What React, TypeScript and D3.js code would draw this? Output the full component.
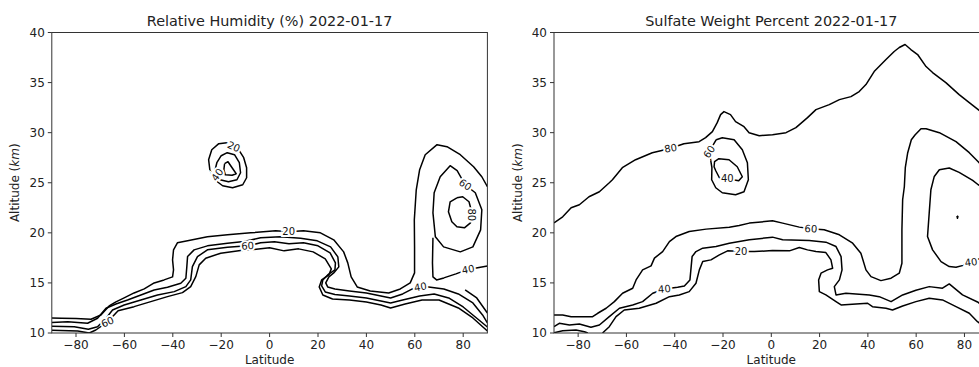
import React from 'react';
import * as d3 from 'd3';

type Pt = [number, number];
type Lbl = [number, number, string, number];

const latTicks = [-80, -60, -40, -20, 0, 20, 40, 60, 80];
const altTicks = [10, 15, 20, 25, 30, 35, 40];

// ---- Relative humidity contours (lat, altitude km) ----
const rh20Band: Pt[] = [
  [-90, 11.5], [-86, 11.48], [-80, 11.45], [-73.8, 11.37], [-69.7, 11.8], [-66.3, 12.7], [-63.5, 13.1],
  [-60.1, 13.5], [-56, 14.0], [-51.8, 14.4], [-47.7, 15.0], [-43.6, 15.3], [-40.1, 15.6], [-39.7, 16.3],
  [-40.1, 17.3], [-39.7, 18.3], [-38.1, 19.0], [-33.9, 19.2], [-25.7, 19.6], [-17.4, 19.8], [-7.8, 20.0],
  [2.5, 20.2], [7.9, 20.1], [14, 20.2], [21, 20.0], [26.5, 19.3], [30.6, 18.1], [32.3, 17.0], [33.7, 15.6],
  [36.2, 14.6], [41.6, 14.2], [49.2, 14.0], [54, 14.4], [58.1, 15.0], [59.9, 16.0], [59.9, 18.6],
  [59.8, 21.3], [60.6, 24.3], [62, 26.3], [64.3, 27.8], [69.2, 28.8], [73.3, 28.6], [78.8, 27.8],
  [84.3, 26.6], [87.7, 25.6], [90, 24.6],
];
const rh40Band: Pt[] = [
  [-90, 11.05], [-83.4, 11.13], [-75.2, 10.97], [-71.1, 11.47], [-67.6, 12.47], [-63.5, 12.9], [-58.7, 13.3],
  [-53.2, 13.8], [-47.7, 14.3], [-42.2, 14.57], [-36.7, 14.97], [-34.6, 15.47], [-34.2, 16.63], [-33.9, 17.63],
  [-31.2, 18.3], [-25.7, 18.7], [-17.4, 18.97], [-10.6, 19.13], [-3.7, 19.5], [4.5, 19.6], [12.8, 19.45],
  [19.7, 19.2], [25.2, 18.6], [28.2, 17.6], [28.6, 16.6], [26.5, 16.0], [24.5, 15.6], [23.2, 15.0],
  [24, 14.6], [27, 14.4], [33, 14.2], [40, 14.0], [46, 13.7], [50, 13.5], [55, 13.9], [59, 14.4],
  [62.3, 14.6], [65.7, 14.6], [72, 14.4], [78, 13.9], [84, 13.0], [88, 11.8], [90, 11.0],
];
const rh60Band: Pt[] = [
  [-90, 10.67], [-80.7, 10.63], [-74.9, 10.37], [-71.1, 10.63], [-67.5, 11.5], [-64.9, 12.3], [-60.1, 12.8],
  [-53.2, 13.3], [-46.3, 13.8], [-39.4, 14.13], [-34.6, 14.63], [-32.6, 15.3], [-31.9, 16.63], [-29.8, 17.63],
  [-25.7, 18.3], [-17.4, 18.57], [-9.1, 18.7], [-3.7, 19.0], [2, 19.1], [8, 18.9], [14, 19.0], [20, 18.7],
  [25, 18.0], [27.2, 17.0], [27, 16.3], [24, 15.8], [22, 15.3], [21.5, 14.7], [23, 14.1], [27, 13.85],
  [33, 13.7], [40, 13.5], [46, 13.2], [50, 13.0], [55, 13.3], [62, 13.7], [68, 13.9], [74, 13.5],
  [80, 12.6], [86, 11.4], [90, 10.6],
];
const rh80Band: Pt[] = [
  [-90, 10.27], [-79.3, 10.2], [-74.5, 10.0], [-71.8, 10.3], [-67, 11.1], [-62.6, 12.23], [-56, 12.63],
  [-49.1, 13.13], [-42.2, 13.63], [-36, 14.03], [-32.6, 14.63], [-30.5, 15.63], [-29.1, 16.8], [-26.4, 17.47],
  [-20.2, 17.97], [-12, 18.23], [-7.8, 18.3], [0, 18.5], [6, 18.2], [12, 18.4], [18, 18.1], [23, 17.4],
  [25.5, 16.4], [24.5, 15.8], [21.5, 15.3], [20.5, 14.6], [22, 13.8], [26, 13.4], [33, 13.3], [40, 13.1],
  [46, 12.8], [50, 12.5], [56, 12.9], [63, 13.3], [70, 13.3], [78, 12.5], [84, 11.5], [90, 10.2],
];
const rhCorner: Pt[] = [[80.8, 14.3], [85.6, 13.5], [90, 12.0]];
const rh40Right: Pt[] = [
  [90, 16.7], [87.7, 16.6], [82, 16.35], [77, 15.9], [72, 15.5], [69, 15.3], [67.5, 15.6], [67.3, 17.0], [67.5, 19.5],
];
const rh60Loop: Pt[] = [
  [80.8, 24.8], [85, 24.0], [87.7, 22.3], [87.2, 20.3], [84, 18.6], [78.8, 18.1], [71.9, 18.6], [68.5, 19.6],
  [67.5, 22], [68, 24], [70.5, 25.6], [74.6, 26.7], [77.5, 26.2], [80.8, 24.8],
];
const rh80Loop: Pt[] = [
  [77.4, 23.5], [74.6, 23.1], [73.9, 22.1], [75.3, 21.1], [77.4, 20.6], [80.5, 20.5], [83, 21.0],
  [83.6, 22.0], [82.4, 23.1], [79.8, 23.6], [77.4, 23.5],
];
const rhBlob20: Pt[] = [
  [-17.7, 29.0], [-14.8, 28.7], [-12.8, 28.3], [-10.7, 27.5], [-9.5, 26.5], [-9.5, 25.5], [-11.1, 24.8],
  [-15.3, 24.5], [-19.4, 24.7], [-22.7, 25.3], [-24.7, 26.3], [-25.2, 27.3], [-23.9, 28.3], [-21, 28.9], [-17.7, 29.0],
];
const rhBlob40: Pt[] = [
  [-21.6, 25.8], [-20.5, 25.3], [-17, 25.1], [-13.5, 25.3], [-12, 26], [-12.5, 27], [-14.5, 27.8],
  [-17.5, 28.0], [-20, 27.7], [-21.8, 27], [-22.4, 26.4], [-21.6, 25.8],
];
const rhBlob60: Pt[] = [
  [-18.6, 26.9], [-17.2, 27.1], [-15.5, 26.5], [-13.8, 25.9], [-15.5, 25.75], [-18.3, 25.8], [-18.9, 26.3], [-18.6, 26.9],
];
const rhLabels: Lbl[] = [
  [7.9, 20.1, '20', 0], [-9.1, 18.7, '60', -3], [-67, 11.1, '60', -25], [62.3, 14.6, '40', -10],
  [82, 16.35, '40', -10], [80.8, 24.8, '60', 35], [83.4, 21.8, '80', 90], [-14.8, 28.6, '20', 25],
  [-21.6, 25.8, '40', -55],
];

// ---- Sulfate weight percent contours ----
const sw80Top: Pt[] = [
  [-90, 21.0], [-86.4, 21.6], [-82.9, 22.5], [-79.5, 22.8], [-75.5, 23.6], [-71.2, 24.1], [-67.1, 25.0],
  [-65.8, 25.3], [-61.7, 26.5], [-56.2, 27.3], [-49.3, 28.0], [-45.8, 28.2], [-41.7, 28.45], [-36.2, 28.9],
  [-29.9, 29.1], [-27.2, 29.5], [-24.4, 30.1], [-22.4, 31.0], [-21, 31.8], [-19.6, 32.1], [-16.9, 31.8],
  [-14.8, 31.1], [-11.3, 30.6], [-9.2, 30.0], [-5, 29.7], [0.5, 29.8], [6.1, 30.0], [10.2, 30.5],
  [15.0, 31.5], [18.5, 32.3], [24, 32.8], [28.2, 33.3], [33, 33.6], [36.4, 34.1], [39.2, 34.8], [42.6, 36.1],
  [47.5, 37.3], [50.9, 38.1], [53, 38.5], [55.4, 38.8], [57.8, 38.3], [60.6, 37.8], [64.1, 36.6],
  [66.8, 36.0], [72.3, 35.0], [77.8, 33.8], [82, 33.0], [85.7, 32.3], [90, 31.4],
];
const sw60Small: Pt[] = [
  [-22.8, 29.3], [-20.3, 29.5], [-15.4, 29.3], [-12, 28.3], [-9.9, 27.0], [-9.5, 25.3], [-11.3, 24.1],
  [-14.8, 23.8], [-20.3, 24.0], [-23, 24.5], [-24.7, 25.3], [-24.6, 26.5], [-25.7, 28.1], [-22.8, 29.3],
];
const sw40Small: Pt[] = [
  [-23, 26.2], [-23.7, 26.6], [-23.5, 27.1], [-21.7, 27.4], [-17.5, 27.3], [-14.1, 26.6], [-12, 25.6],
  [-13.5, 25.2], [-18.2, 25.4], [-21.5, 25.5], [-23, 26.2],
];
const sw60Band: Pt[] = [
  [-90, 11.8], [-86.4, 11.8], [-82.9, 11.63], [-74, 11.63], [-71.9, 11.97], [-68.4, 12.47], [-65, 13.13],
  [-61.6, 13.97], [-57.4, 14.47], [-56, 15.3], [-53.3, 16.3], [-49.8, 16.7], [-48.4, 17.47], [-45, 18.13],
  [-42.2, 19.13], [-39.5, 19.63], [-34, 20.13], [-27, 20.37], [-17.4, 20.55], [-13.3, 20.73], [-9.1, 20.97],
  [0.5, 21.2], [4.7, 20.97], [11.6, 20.57], [16.4, 20.4], [21.9, 20.3], [28.2, 19.8], [33.7, 18.97],
  [37.1, 17.97], [39.2, 16.3], [41.3, 15.63], [45.4, 15.23], [49.6, 15.47], [53, 15.97], [54.1, 16.97],
  [54.1, 20.3], [54.4, 23.3], [55.1, 24.6], [55.5, 26.5], [56.5, 28], [58, 29.3], [59.6, 29.8], [62, 30.4],
  [64.1, 30.4], [69.6, 30.0], [76.5, 29.1], [82, 28.0], [85.7, 27.1], [90, 26.0],
];
const sw40Band: Pt[] = [
  [-90, 10.63], [-87.8, 10.97], [-83.6, 10.8], [-79.5, 10.9], [-74.7, 10.57], [-71.2, 10.8], [-67.1, 11.63],
  [-62.9, 12.47], [-57.4, 12.8], [-53.3, 13.13], [-49.1, 13.97], [-44.3, 14.4], [-38.8, 14.57], [-36, 14.7],
  [-33.7, 15.3], [-32.8, 17.63], [-31.2, 18.13], [-28.4, 18.47], [-22.9, 18.63], [-17.4, 18.95], [-9.1, 19.3],
  [0.5, 19.57], [4.7, 19.3], [15.7, 19.23], [22.6, 19.07], [26.8, 18.63], [28.9, 17.63], [29.3, 16.3],
  [28.2, 15.3], [26.1, 14.63], [26.8, 13.8], [30.9, 13.97], [40.6, 13.8], [44.7, 13.63], [49.6, 13.13],
  [54.4, 13.8], [59.9, 14.27], [65.4, 14.63], [70.9, 14.47], [73.7, 14.9], [79.2, 13.8], [85.4, 13.1], [90, 12.3],
];
const sw20Band: Pt[] = [
  [-69.9, 10.0], [-67.1, 10.63], [-64.3, 11.63], [-60.9, 12.3], [-54.7, 12.47], [-47.7, 12.97], [-42.2, 13.63],
  [-38.1, 13.8], [-34, 14.13], [-31.2, 14.97], [-29.8, 16.3], [-28.4, 17.13], [-25, 17.3], [-21.5, 17.8],
  [-18.1, 18.2], [-12.5, 18.13], [-7, 18.13], [0.5, 18.23], [7.5, 18.2], [11.6, 18.53], [15, 18.3],
  [18.5, 18.13], [22.6, 18.03], [24.7, 17.3], [25.4, 16.47], [23.3, 16.3], [20.6, 15.97], [19.6, 15.3],
  [19.9, 14.13], [22.6, 13.8], [26.8, 13.13], [28.9, 12.8], [35.1, 12.9], [39.9, 12.97], [41.9, 12.63],
  [47.5, 12.47], [50.2, 12.3], [54.4, 12.7], [59.9, 13.13], [65.4, 13.47], [70.9, 13.3], [76.5, 12.63],
  [82, 11.97], [85.4, 11.13], [90, 10.3],
];
const sw20Arc: Pt[] = [[-90, 10.03], [-86.4, 10.23], [-80.9, 10.3], [-77.4, 10.13], [-76, 10.0]];
const sw40Right: Pt[] = [
  [90, 24.2], [85.7, 24.8], [83.4, 25.23], [77.8, 26.03], [73.7, 26.47], [69.6, 26.3], [67.5, 25.63],
  [66.1, 24.3], [65.4, 21.97], [64.7, 19.63], [66.8, 18.3], [70.3, 17.13], [73.7, 16.63], [76.5, 16.57],
  [79.5, 16.75], [82.7, 17.07], [86, 17.4], [90, 17.6],
];
const swDot: Pt[] = [[76.9, 21.7], [77.3, 21.62], [77.1, 21.45], [76.9, 21.7]];
const swLabels: Lbl[] = [
  [-41.7, 28.45, '80', -10], [-25.7, 28.1, '60', -55], [-18.2, 25.4, '40', 0], [16.4, 20.4, '60', 3],
  [-44.3, 14.4, '40', -5], [-12.5, 18.13, '20', 0], [82.7, 17.07, '40', -8],
];

const rhLines = [rh20Band, rh40Band, rh60Band, rh80Band, rhCorner, rh40Right, rh60Loop, rh80Loop, rhBlob20, rhBlob40, rhBlob60];
const swLines = [sw80Top, sw60Small, sw40Small, sw60Band, sw40Band, sw20Band, sw20Arc, sw40Right, swDot];

const FONT = 'DejaVu Sans, sans-serif';
const TOP = 32.5;
const BOTTOM = 333;

interface PanelProps {
  id: string;
  left: number;
  right: number;
  title: string;
  lines: Pt[][];
  labels: Lbl[];
  yLabelX: number;
}

const Panel = ({ id, left, right, title, lines, labels, yLabelX }: PanelProps) => {
  const x = d3.scaleLinear().domain([-90, 90]).range([left, right]);
  const y = d3.scaleLinear().domain([10, 40]).range([BOTTOM, TOP]);
  const line = d3.line<Pt>().x(d => x(d[0])).y(d => y(d[1]));
  const fmt = (v: number) => (v < 0 ? '\u2212' + Math.abs(v) : String(v));
  const cx = (left + right) / 2;
  return (
    <g>
      <defs>
        <clipPath id={id}>
          <rect x={left} y={TOP} width={right - left} height={BOTTOM - TOP} />
        </clipPath>
      </defs>
      <g clipPath={`url(#${id})`}>
        {lines.map((l, i) => (
          <path key={i} d={line(l) || ''} fill="none" stroke="#000" strokeWidth={1.5} strokeLinejoin="round" />
        ))}
        {labels.map((l, i) => (
          <text
            key={i}
            transform={`translate(${x(l[0])},${y(l[1])}) rotate(${l[3]})`}
            textAnchor="middle"
            dominantBaseline="central"
            fontSize={10}
            fill="#111"
            stroke="#fff"
            strokeWidth={4}
            style={{ paintOrder: 'stroke' }}
          >
            {l[2]}
          </text>
        ))}
      </g>
      <rect x={left} y={TOP} width={right - left} height={BOTTOM - TOP} fill="none" stroke="#333" strokeWidth={1} />
      {latTicks.map(t => (
        <g key={t}>
          <line x1={x(t)} x2={x(t)} y1={BOTTOM} y2={BOTTOM + 4} stroke="#333" />
          <text x={x(t)} y={BOTTOM + 16} textAnchor="middle" fontSize={12} fill="#222">{fmt(t)}</text>
        </g>
      ))}
      {altTicks.map(t => (
        <g key={t}>
          <line x1={left - 4} x2={left} y1={y(t)} y2={y(t)} stroke="#333" />
          <text x={left - 7} y={y(t)} dy="0.36em" textAnchor="end" fontSize={12} fill="#222">{t}</text>
        </g>
      ))}
      <text x={cx} y={26} textAnchor="middle" fontSize={14.4} fill="#222">{title}</text>
      <text x={cx} y={364} textAnchor="middle" fontSize={12} fill="#222">Latitude</text>
      <text
        transform={`translate(${yLabelX},${(TOP + BOTTOM) / 2}) rotate(-90)`}
        textAnchor="middle"
        dominantBaseline="central"
        fontSize={12}
        fill="#222"
      >
        Altitude (<tspan fontStyle="italic">km</tspan>)
      </text>
    </g>
  );
};

export default function App() {
  return (
    <svg
      width={979}
      height={367}
      style={{ position: 'absolute', left: 0, top: 0, background: '#fff', fontFamily: FONT }}
    >
      <rect width={979} height={367} fill="#fff" />
      <Panel id="rh" left={51.8} right={487.4} title="Relative Humidity (%) 2022-01-17" lines={rhLines} labels={rhLabels} yLabelX={15} />
      <Panel id="sw" left={554} right={988.6} title="Sulfate Weight Percent 2022-01-17" lines={swLines} labels={swLabels} yLabelX={518} />
    </svg>
  );
}
